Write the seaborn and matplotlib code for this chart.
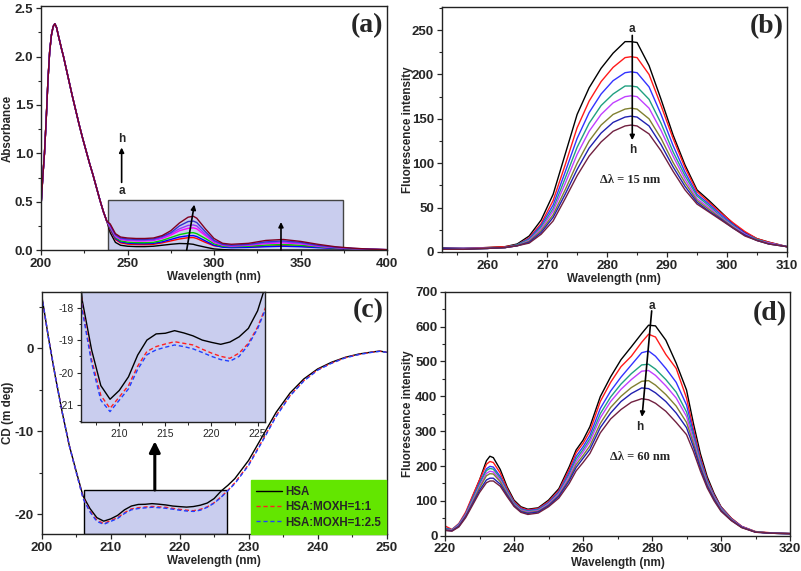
import numpy as np
import pandas as pd
import matplotlib
matplotlib.use("Agg")
import matplotlib.pyplot as plt
import matplotlib.patches as patches
from matplotlib.ticker import MultipleLocator
import seaborn as sns

# ---------------- data ----------------
series_ids = ["a", "b", "c", "d", "e", "f", "g", "h"]

# (a) UV-vis absorbance
a_head_wl = [200, 201, 202, 203, 204, 205, 206, 207, 208, 209, 210, 212, 213, 214, 216, 218,
             220, 222, 224, 226, 228, 230, 232, 234, 236, 238]
a_head_abs = [0.45, 0.75, 1.0, 1.35, 1.75, 2.05, 2.22, 2.31, 2.34, 2.30, 2.22, 2.07, 2.0, 1.92,
              1.76, 1.60, 1.45, 1.30, 1.16, 1.03, 0.90, 0.78, 0.65, 0.52, 0.40, 0.30]
a_tail_wl = [240, 243, 246, 250, 255, 260, 265, 270, 275, 280, 285, 288, 290, 295, 300, 305,
             310, 320, 330, 340, 350, 360, 370, 380, 390, 400]
a_tail = {
    "a": [0.18, 0.08, 0.05, 0.04, 0.036, 0.036, 0.04, 0.05, 0.06, 0.068, 0.066, 0.06, 0.05, 0.03, 0.012, 0.005, 0.002, 0.0, 0.0, 0.0, 0.0, 0.0, 0.0, 0.0, 0.0, 0.0],
    "b": [0.21, 0.11, 0.075, 0.062, 0.057, 0.056, 0.06, 0.075, 0.095, 0.115, 0.128, 0.13, 0.12, 0.08, 0.045, 0.035, 0.032, 0.034, 0.04, 0.045, 0.04, 0.03, 0.02, 0.012, 0.006, 0.003],
    "c": [0.22, 0.12, 0.085, 0.072, 0.067, 0.066, 0.07, 0.085, 0.11, 0.135, 0.148, 0.15, 0.14, 0.095, 0.05, 0.03, 0.025, 0.028, 0.035, 0.04, 0.035, 0.025, 0.018, 0.012, 0.006, 0.003],
    "d": [0.23, 0.13, 0.095, 0.082, 0.077, 0.076, 0.08, 0.10, 0.13, 0.16, 0.178, 0.18, 0.17, 0.12, 0.065, 0.04, 0.035, 0.04, 0.052, 0.058, 0.05, 0.035, 0.022, 0.013, 0.007, 0.004],
    "e": [0.24, 0.14, 0.11, 0.10, 0.095, 0.095, 0.10, 0.12, 0.155, 0.20, 0.225, 0.23, 0.22, 0.15, 0.08, 0.05, 0.04, 0.05, 0.068, 0.075, 0.065, 0.04, 0.025, 0.015, 0.008, 0.004],
    "f": [0.25, 0.15, 0.115, 0.105, 0.10, 0.10, 0.105, 0.13, 0.17, 0.22, 0.255, 0.26, 0.25, 0.165, 0.09, 0.055, 0.045, 0.055, 0.075, 0.085, 0.07, 0.045, 0.028, 0.016, 0.009, 0.004],
    "g": [0.26, 0.16, 0.125, 0.115, 0.11, 0.11, 0.115, 0.14, 0.18, 0.25, 0.295, 0.30, 0.285, 0.19, 0.10, 0.06, 0.05, 0.06, 0.085, 0.095, 0.08, 0.05, 0.03, 0.018, 0.01, 0.005],
    "h": [0.27, 0.17, 0.135, 0.125, 0.12, 0.12, 0.125, 0.15, 0.20, 0.28, 0.34, 0.35, 0.33, 0.22, 0.12, 0.07, 0.06, 0.07, 0.10, 0.11, 0.09, 0.06, 0.035, 0.02, 0.01, 0.005],
}
a_colors = ["#000000", "#ff0000", "#0000ff", "#00cc00", "#ff00ff", "#9933ff", "#3333cc", "#800020"]

# (b) synchronous fluorescence, delta lambda = 15 nm
b_wl = [252, 256, 260, 263, 265, 267, 269, 271, 273, 275, 277, 279, 281, 283, 284, 285, 287,
        289, 291, 293, 295, 297, 299, 301, 303, 305, 307, 310]
b_int = {
    "a": [5, 4, 5, 6, 9, 18, 36, 65, 110, 155, 185, 207, 224, 237, 237, 236, 210, 172, 132, 98, 70, 58, 45, 32, 22, 15, 11, 6],
    "b": [4, 4, 5, 6, 8, 16, 32, 58, 98, 140, 170, 192, 208, 219, 220, 219, 200, 165, 128, 95, 68, 56, 44, 33, 23, 15, 11, 6],
    "c": [4, 4, 4, 5, 8, 15, 30, 53, 90, 128, 157, 178, 193, 202, 203, 202, 186, 155, 120, 90, 65, 54, 42, 31, 21, 14, 10, 6],
    "d": [4, 4, 4, 5, 8, 14, 28, 49, 83, 118, 145, 165, 178, 187, 187, 186, 172, 145, 113, 86, 63, 52, 40, 30, 20, 14, 10, 6],
    "e": [4, 4, 4, 5, 7, 13, 26, 46, 77, 110, 136, 155, 168, 175, 176, 175, 162, 137, 108, 82, 60, 50, 39, 29, 20, 13, 10, 6],
    "f": [4, 3, 4, 5, 7, 12, 24, 42, 70, 100, 125, 143, 155, 161, 162, 161, 150, 128, 101, 78, 58, 48, 38, 28, 19, 13, 9, 6],
    "g": [4, 3, 4, 5, 7, 11, 22, 39, 65, 93, 117, 134, 146, 152, 153, 152, 142, 121, 96, 74, 56, 46, 37, 27, 19, 13, 9, 6],
    "h": [3, 3, 4, 5, 7, 10, 20, 35, 60, 86, 108, 124, 136, 142, 143, 142, 133, 114, 91, 70, 54, 45, 36, 27, 18, 13, 9, 6],
}
fl_colors = ["#000000", "#ff1a1a", "#3333ff", "#20a080", "#c040ff", "#808030", "#2020b0", "#702040"]

# (c) circular dichroism
c_wl = [200, 201, 202, 203, 204, 205, 206, 207, 208, 209, 210, 211, 212, 213, 214, 215, 216,
        217, 218, 219, 220, 221, 222, 223, 224, 225, 226, 227, 228, 230, 232, 234, 236, 238,
        240, 242, 244, 246, 248, 249, 250]
c_hsa = [6.4, 1.2, -3.5, -7.8, -11.7, -14.8, -17.8, -19.3, -20.4, -20.82, -20.55, -20.13, -19.46,
         -19.0, -18.81, -18.79, -18.71, -18.78, -18.87, -19.0, -19.07, -19.13, -19.06, -18.9,
         -18.64, -18.1, -17.2, -16.5, -15.7, -13.5, -10.6, -7.7, -5.4, -3.7, -2.5, -1.7, -1.1,
         -0.7, -0.45, -0.35, -0.5]
c_r11 = [6.4, 1.2, -3.5, -7.8, -11.7, -14.9, -18.0, -19.6, -20.7, -21.1, -20.75, -20.4, -19.8,
         -19.35, -19.2, -19.12, -19.05, -19.1, -19.15, -19.28, -19.4, -19.5, -19.56, -19.4,
         -19.1, -18.6, -17.9, -17.1, -16.2, -14.0, -11.1, -8.1, -5.7, -3.9, -2.6, -1.8, -1.15,
         -0.75, -0.47, -0.37, -0.5]
c_r125 = [6.4, 1.2, -3.5, -7.8, -11.7, -14.9, -18.1, -19.7, -20.85, -21.2, -20.85, -20.5, -19.9,
          -19.45, -19.3, -19.22, -19.15, -19.2, -19.27, -19.38, -19.5, -19.6, -19.65, -19.5,
          -19.15, -18.65, -17.95, -17.15, -16.3, -14.1, -11.2, -8.2, -5.75, -3.95, -2.65,
          -1.82, -1.17, -0.76, -0.48, -0.38, -0.5]
c_labels = ["HSA", "HSA:MOXH=1:1", "HSA:MOXH=1:2.5"]

# (d) synchronous fluorescence, delta lambda = 60 nm
d_wl = [220, 222, 224, 226, 228, 230, 232, 233, 234, 236, 238, 240, 242, 244, 247, 250, 253,
        256, 258, 260, 262, 265, 268, 271, 274, 277, 279, 281, 284, 287, 290, 292, 294, 296,
        298, 300, 303, 306, 310, 315, 320]
d_int = {
    "a": [21, 16, 31, 64, 112, 160, 215, 228, 224, 190, 140, 102, 83, 76, 80, 102, 135, 198, 246, 274, 313, 399, 456, 505, 542, 580, 604, 602, 561, 495, 418, 322, 236, 169, 121, 83, 50, 26, 11, 7, 6],
    "b": [28, 18, 35, 68, 115, 160, 205, 213, 210, 180, 135, 98, 80, 74, 78, 98, 130, 190, 238, 265, 300, 385, 440, 485, 515, 555, 578, 570, 520, 480, 395, 305, 225, 162, 117, 82, 50, 27, 12, 8, 6],
    "c": [22, 17, 33, 63, 108, 152, 192, 199, 197, 170, 130, 95, 77, 72, 76, 95, 126, 182, 228, 255, 288, 365, 415, 455, 490, 525, 530, 515, 480, 440, 375, 295, 218, 158, 114, 80, 48, 26, 11, 7, 6],
    "d": [20, 17, 32, 62, 105, 148, 187, 193, 191, 165, 127, 93, 75, 70, 74, 93, 123, 176, 220, 247, 278, 350, 398, 435, 465, 490, 492, 478, 448, 412, 355, 285, 212, 155, 112, 78, 47, 25, 11, 7, 6],
    "e": [18, 16, 30, 60, 100, 142, 179, 185, 183, 160, 123, 90, 73, 68, 72, 91, 120, 170, 212, 240, 270, 338, 385, 420, 448, 472, 474, 460, 430, 395, 342, 275, 206, 150, 110, 76, 46, 25, 11, 7, 6],
    "f": [17, 15, 28, 57, 96, 137, 172, 178, 177, 155, 120, 88, 71, 66, 70, 88, 116, 163, 204, 230, 258, 322, 368, 400, 425, 443, 445, 432, 405, 372, 325, 265, 200, 146, 107, 74, 45, 24, 11, 7, 6],
    "g": [16, 14, 27, 55, 92, 130, 160, 165, 165, 148, 116, 86, 69, 64, 68, 86, 113, 158, 196, 222, 248, 310, 352, 385, 408, 424, 422, 410, 385, 352, 310, 255, 194, 142, 104, 72, 44, 24, 10, 7, 6],
    "h": [15, 13, 25, 52, 88, 124, 152, 157, 157, 142, 112, 84, 67, 61, 65, 83, 108, 150, 186, 210, 236, 295, 335, 362, 383, 393, 390, 380, 357, 325, 290, 242, 186, 137, 100, 70, 43, 23, 10, 7, 6],
}

# ---------------- style ----------------
sns.set_style("ticks")
plt.rcParams["font.family"] = ["Liberation Sans", "DejaVu Sans"]
plt.rcParams["font.weight"] = "bold"
plt.rcParams["axes.labelweight"] = "bold"
plt.rcParams["axes.linewidth"] = 1.0
plt.rcParams["axes.unicode_minus"] = False
plt.rcParams["xtick.direction"] = "out"
plt.rcParams["ytick.direction"] = "out"

LAV = "#c9cdee"
SERIF = ["Liberation Serif", "DejaVu Serif"]

fig = plt.figure(figsize=(8.01, 5.71), dpi=100)
axa = fig.add_axes([0.0512, 0.562, 0.432, 0.427])
axb = fig.add_axes([0.5514, 0.5587, 0.431, 0.429])
axc = fig.add_axes([0.052, 0.0643, 0.4307, 0.4249])
axd = fig.add_axes([0.5556, 0.0618, 0.4307, 0.4273])


def style_axis(ax, xmaj, ymaj, ylabel, ylab_x, label_size=9.5):
    for s in ax.spines.values():
        s.set_visible(True)
        s.set_color("#222222")
        s.set_linewidth(1.0)
    ax.xaxis.set_major_locator(MultipleLocator(xmaj))
    ax.xaxis.set_minor_locator(MultipleLocator(xmaj / 2))
    ax.yaxis.set_major_locator(MultipleLocator(ymaj))
    ax.yaxis.set_minor_locator(MultipleLocator(ymaj / 2))
    ax.tick_params(which="major", length=3.5, width=0.9, labelsize=label_size, pad=2)
    ax.tick_params(which="minor", length=2, width=0.8)
    ax.set_xlabel("Wavelength (nm)", fontsize=8.4, labelpad=1)
    ax.set_ylabel(ylabel, fontsize=8.4)
    ax.yaxis.set_label_coords(ylab_x, 0.5)


def long_df(wl, d):
    rows = []
    for k in series_ids:
        for x, y in zip(wl, d[k]):
            rows.append((x, y, k))
    return pd.DataFrame(rows, columns=["wl", "val", "series"])


# ---------- (a) ----------
a_full = {k: a_head_abs + a_tail[k] for k in series_ids}
dfa = long_df(a_head_wl + a_tail_wl, a_full)
axa.add_patch(patches.Rectangle((238.5, 0.0), 136.2, 0.517, facecolor=LAV,
                                edgecolor="#444444", lw=1.0, zorder=0.5))
sns.lineplot(data=dfa, x="wl", y="val", hue="series", palette=a_colors, legend=False,
             ax=axa, linewidth=1.0, sort=False, estimator=None)
axa.set_xlim(200, 400)
axa.set_ylim(0, 2.52)
style_axis(axa, 50, 0.5, "Absorbance", -0.078)
arrow_kw = dict(arrowstyle="-|>", color="k", lw=1.2, mutation_scale=7, shrinkA=0, shrinkB=0)
axa.annotate("", xy=(288.6, 0.47), xytext=(284.2, 0.0), arrowprops=arrow_kw)
axa.annotate("", xy=(338.7, 0.29), xytext=(338.7, 0.0), arrowprops=arrow_kw)
axa.annotate("", xy=(246.6, 1.06), xytext=(246.6, 0.70), arrowprops=arrow_kw)
axa.text(246.6, 1.15, "h", ha="center", va="center", fontsize=8.5)
axa.text(246.6, 0.61, "a", ha="center", va="center", fontsize=8.5)
axa.text(0.942, 0.922, "(a)", transform=axa.transAxes, ha="center", va="center",
         fontsize=20, fontweight="bold", family=SERIF)

# ---------- (b) ----------
dfb = long_df(b_wl, b_int)
sns.lineplot(data=dfb, x="wl", y="val", hue="series", palette=fl_colors, legend=False,
             ax=axb, linewidth=1.0, sort=False, estimator=None)
axb.set_xlim(252.4, 310)
axb.set_ylim(0, 276)
style_axis(axb, 10, 50, "Fluorescence intensity", -0.080)
axb.annotate("", xy=(284.2, 126), xytext=(284.2, 244), arrowprops=arrow_kw)
axb.text(284.2, 251, "a", ha="center", va="center", fontsize=8.5)
axb.text(284.2, 115, "h", ha="center", va="center", fontsize=8.5)
axb.text(283.8, 81, "Δλ = 15 nm", ha="center", va="center", fontsize=9,
         fontweight="bold", family=SERIF)
axb.text(0.942, 0.922, "(b)", transform=axb.transAxes, ha="center", va="center",
         fontsize=20, fontweight="bold", family=SERIF)

# ---------- (c) ----------
rows = []
for lab, vals in zip(c_labels, [c_hsa, c_r11, c_r125]):
    for x, y in zip(c_wl, vals):
        rows.append((x, y, lab))
dfc = pd.DataFrame(rows, columns=["wl", "cd", "sample"])
c_pal = {"HSA": "#000000", "HSA:MOXH=1:1": "#ff2020", "HSA:MOXH=1:2.5": "#2040ff"}
c_dash = {"HSA": "", "HSA:MOXH=1:1": (3, 2), "HSA:MOXH=1:2.5": (3, 2)}

axc.add_patch(patches.Rectangle((206.1, -22.4), 20.7, 5.33, facecolor=LAV,
                                edgecolor="k", lw=1.0, zorder=0.5))
sns.lineplot(data=dfc, x="wl", y="cd", hue="sample", style="sample", palette=c_pal,
             dashes=c_dash, ax=axc, linewidth=1.0, sort=False, estimator=None)
axc.set_xlim(200, 250)
axc.set_ylim(-22.4, 6.8)
style_axis(axc, 10, 10, "CD (m deg)", -0.080)
axc.annotate("", xy=(216.4, -11.2), xytext=(216.4, -17.07),
             arrowprops=dict(arrowstyle="-|>", color="k", lw=2.2, mutation_scale=16,
                             shrinkA=0, shrinkB=0))
handles, labels = axc.get_legend_handles_labels()
leg = axc.legend(handles, labels, loc="lower right", fontsize=8.3, frameon=True,
                 fancybox=False, framealpha=1, facecolor="#63e600", edgecolor="#63e600",
                 handlelength=2.2, borderaxespad=0.05, borderpad=0.45, labelspacing=0.3,
                 handletextpad=0.3)
for t in leg.get_texts():
    t.set_fontweight("bold")
axc.text(0.946, 0.92, "(c)", transform=axc.transAxes, ha="center", va="center",
         fontsize=20, fontweight="bold", family=SERIF)

# inset
axi = fig.add_axes([0.1011, 0.2615, 0.2297, 0.2266])
axi.set_facecolor(LAV)
sns.lineplot(data=dfc, x="wl", y="cd", hue="sample", style="sample", palette=c_pal,
             dashes=c_dash, ax=axi, linewidth=1.0, legend=False, sort=False, estimator=None)
axi.set_xlim(205.85, 225.8)
axi.set_ylim(-21.51, -17.53)
for s in axi.spines.values():
    s.set_visible(True)
    s.set_color("#222222")
    s.set_linewidth(1.0)
axi.xaxis.set_major_locator(MultipleLocator(5))
axi.xaxis.set_minor_locator(MultipleLocator(2.5))
axi.yaxis.set_major_locator(MultipleLocator(1))
axi.yaxis.set_minor_locator(MultipleLocator(0.5))
axi.tick_params(which="major", length=3, width=0.8, labelsize=7.5, pad=2)
axi.tick_params(which="minor", length=1.8, width=0.7)
axi.set_xlabel("")
axi.set_ylabel("")

# ---------- (d) ----------
dfd = long_df(d_wl, d_int)
sns.lineplot(data=dfd, x="wl", y="val", hue="series", palette=fl_colors, legend=False,
             ax=axd, linewidth=1.0, sort=False, estimator=None)
axd.set_xlim(220, 320)
axd.set_ylim(0, 700)
style_axis(axd, 20, 100, "Fluorescence intensity", -0.090)
axd.annotate("", xy=(277.1, 341), xytext=(279.9, 645), arrowprops=arrow_kw)
axd.text(280.1, 659, "a", ha="center", va="center", fontsize=8.5)
axd.text(276.5, 313, "h", ha="center", va="center", fontsize=8.5)
axd.text(276.5, 227, "Δλ = 60 nm", ha="center", va="center", fontsize=9,
         fontweight="bold", family=SERIF)
axd.text(0.942, 0.909, "(d)", transform=axd.transAxes, ha="center", va="center",
         fontsize=20, fontweight="bold", family=SERIF)

# final tick-label weights
fig.canvas.draw()
for ax in (axa, axb, axc, axd):
    for t in ax.get_xticklabels() + ax.get_yticklabels():
        t.set_fontweight("bold")
for t in axi.get_xticklabels() + axi.get_yticklabels():
    t.set_fontweight("normal")

fig.savefig("out.png", dpi=100)
